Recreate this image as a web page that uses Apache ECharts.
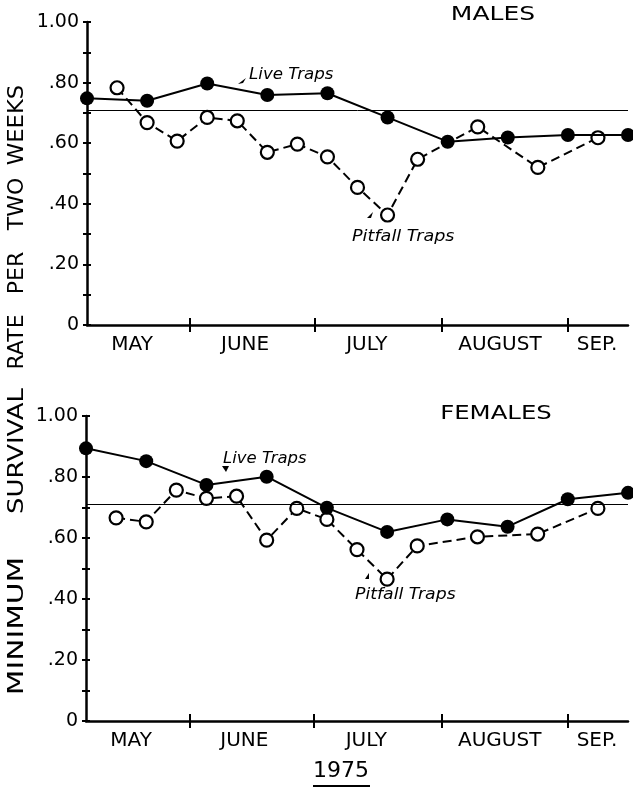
<!DOCTYPE html>
<html>
<head>
<meta charset="utf-8">
<script src="https://cdn.jsdelivr.net/npm/echarts@6/dist/echarts.min.js"></script>
<style>html,body{margin:0;padding:0;background:#fff;}#c{width:633px;height:788px;}</style>
</head>
<body>
<div id="c"></div>
<script>
// x in weeks from first sampling date
const weeksLive = [0, 2, 4, 6, 8, 10, 12, 14, 16, 18];
const weeksPit = [1, 2, 3, 4, 5, 6, 7, 8, 9, 10, 11, 13, 15, 17];
const malesLive = [0.748, 0.740, 0.797, 0.759, 0.765, 0.685, 0.605, 0.619, 0.627, 0.627];
const malesPit = [0.783, 0.668, 0.607, 0.685, 0.674, 0.570, 0.597, 0.555, 0.454, 0.363, 0.547, 0.654, 0.520, 0.618];
const femalesLive = [0.894, 0.852, 0.774, 0.801, 0.699, 0.620, 0.661, 0.637, 0.727, 0.748];
const femalesPit = [0.666, 0.653, 0.757, 0.730, 0.737, 0.593, 0.697, 0.661, 0.562, 0.465, 0.574, 0.604, 0.613, 0.697];
const refRate = 0.707;
const monthNames = ['MAY', 'JUNE', 'JULY', 'AUGUST', 'SEP.'];
const monthCenters = [1.5, 5.26, 9.31, 13.74, 16.97];
const monthBounds = [3.43, 7.58, 11.81, 16.0];
const yTitleWords = ['MINIMUM', 'SURVIVAL', 'RATE', 'PER', 'TWO', 'WEEKS'];

const FONT = 'DejaVu Sans';
const pairs = (xs, ys) => xs.map((x, i) => [x, ys[i]]);
function yFmt(v) {
  const k = Math.round(v * 10);
  if (k % 2) return '';
  if (k === 0) return '0';
  if (k === 10) return '1.00';
  return '.' + (k * 10);
}
function xAxes(g) {
  return [
    {
      type: 'value', gridIndex: g, min: 0, max: 18, position: 'bottom',
      axisLine: { show: true, onZero: false, lineStyle: { color: '#000', width: 2.5 } },
      splitLine: { show: false },
      axisTick: { show: true, customValues: monthBounds, length: 7, lineStyle: { color: '#000', width: 2 } },
      axisLabel: {
        show: true, customValues: monthCenters, margin: 10,
        formatter: v => { const i = monthCenters.findIndex(c => Math.abs(c - v) < 1e-6); return i >= 0 ? monthNames[i] : ''; },
        color: '#000', fontFamily: FONT, fontSize: 20
      }
    },
    {
      type: 'value', gridIndex: g, min: 0, max: 18, position: 'bottom',
      axisLine: { show: false },
      splitLine: { show: false },
      axisTick: { show: true, inside: true, customValues: monthBounds, length: 7, lineStyle: { color: '#000', width: 2 } },
      axisLabel: { show: false }
    }
  ];
}
function yAxes(g) {
  return [
    {
      type: 'value', gridIndex: g, min: 0, max: 1, interval: 0.1, position: 'left',
      axisLine: { show: true, onZero: false, lineStyle: { color: '#000', width: 2.5 } },
      splitLine: { show: false },
      axisTick: { show: true, length: 4, lineStyle: { color: '#000', width: 2 } },
      axisLabel: { show: true, formatter: yFmt, margin: 8, color: '#000', fontFamily: FONT, fontSize: 19 }
    },
    {
      type: 'value', gridIndex: g, min: 0, max: 1, interval: 0.1, position: 'left',
      axisLine: { show: false },
      splitLine: { show: false },
      axisTick: { show: true, inside: true, length: 4, lineStyle: { color: '#000', width: 2 } },
      axisLabel: { show: false }
    }
  ];
}
function pitSeries(xi, yi, data) {
  return {
    type: 'line', xAxisIndex: xi, yAxisIndex: yi, data: data, z: 2,
    symbol: 'circle', symbolSize: 13,
    lineStyle: { color: '#000', width: 2, type: [9, 5] },
    itemStyle: { color: '#fff', borderColor: '#000', borderWidth: 2.2, borderType: 'solid' },
    emphasis: { disabled: true }
  };
}
function liveSeries(xi, yi, data) {
  return {
    type: 'line', xAxisIndex: xi, yAxisIndex: yi, data: data, z: 3,
    symbol: 'circle', symbolSize: 14,
    lineStyle: { color: '#000', width: 2 },
    itemStyle: { color: '#000', borderColor: '#000', borderWidth: 0 },
    emphasis: { disabled: true },
    markLine: {
      silent: true, symbol: 'none', animation: false,
      label: { show: false },
      lineStyle: { color: '#000', width: 1, type: 'solid' },
      data: [{ yAxis: refRate }]
    }
  };
}
const txt = (x, y, s, size, sx) => ({
  type: 'text', x: x, y: y, scaleX: sx || 1,
  style: { text: s, fill: '#000', font: size + 'px "' + FONT + '"', textAlign: 'center', textVerticalAlign: 'middle' }
});
const itxt = (x, y, s, size, sx) => ({
  type: 'text', x: x, y: y, scaleX: sx || 1,
  style: { text: s, fill: '#000', font: 'italic ' + size + 'px "' + FONT + '"', textAlign: 'left', textVerticalAlign: 'middle' }
});
const vtxt = (y, s, sx) => ({
  type: 'text', x: 17, y: y, rotation: Math.PI / 2, scaleX: sx,
  style: { text: s, fill: '#000', font: '22px "' + FONT + '"', textAlign: 'center', textVerticalAlign: 'middle' }
});
const arrow = (pts) => ({ type: 'polygon', shape: { points: pts }, style: { fill: '#000' } });

const titleCenters = [626, 451, 342, 273, 204, 125];
const titleStretch = [1.35, 1.18, 1, 1, 1, 1.03];

const chart = echarts.init(document.getElementById('c'), null, { renderer: 'canvas' });
chart.setOption({
  backgroundColor: '#fff',
  animation: false,
  grid: [
    { left: 87, top: 22, width: 541, height: 303, outerBoundsMode: 'none' },
    { left: 86, top: 416, width: 542, height: 305, outerBoundsMode: 'none' }
  ],
  xAxis: xAxes(0).concat(xAxes(1)),
  yAxis: yAxes(0).concat(yAxes(1)),
  series: [
    pitSeries(0, 0, pairs(weeksPit, malesPit)),
    liveSeries(0, 0, pairs(weeksLive, malesLive)),
    pitSeries(2, 2, pairs(weeksPit, femalesPit)),
    liveSeries(2, 2, pairs(weeksLive, femalesLive))
  ],
  graphic: [
    txt(493, 15, 'MALES', 20, 1.25),
    txt(496, 414, 'FEMALES', 20, 1.22),
    itxt(249, 75, 'Live Traps', 16, 1.04),
    itxt(223, 459, 'Live Traps', 16, 1.03),
    itxt(352, 237, 'Pitfall Traps', 16, 1.1),
    itxt(355, 595, 'Pitfall Traps', 16, 1.08),
    arrow([[238, 84], [246, 78], [243, 83]]),
    arrow([[222, 466], [229, 466], [226, 472]]),
    arrow([[367, 218], [373, 212], [371, 218]]),
    arrow([[365, 579], [369, 573], [369, 579]]),
    txt(341, 771, '1975', 22),
    { type: 'line', shape: { x1: 313, y1: 786, x2: 370, y2: 786 }, style: { stroke: '#000', lineWidth: 2 } }
  ].concat(yTitleWords.map((w, i) => vtxt(titleCenters[i], w, titleStretch[i])))
});
</script>
</body>
</html>
